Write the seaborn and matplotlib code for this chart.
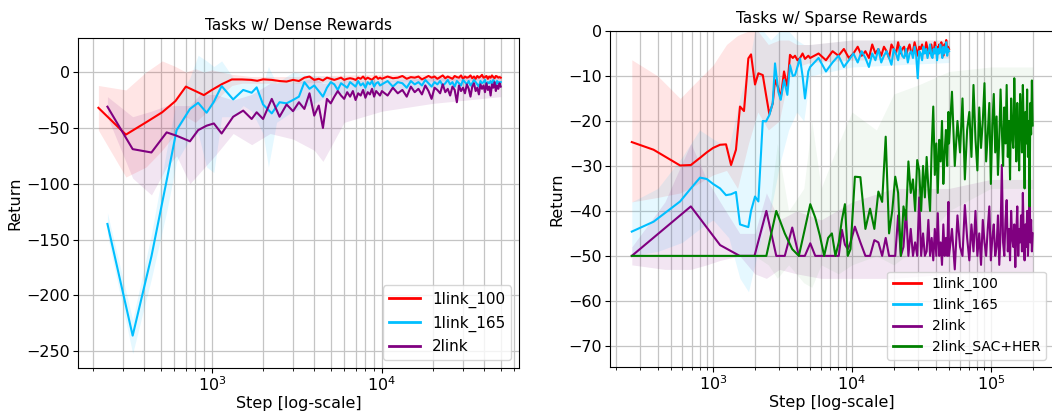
import numpy as np
import pandas as pd
import matplotlib
matplotlib.use("Agg")
import matplotlib.pyplot as plt
import seaborn as sns

# ---------------- data: dense-reward panel ----------------
x_red_early = [215, 312, 410, 510, 610, 703, 800, 897, 1000, 1145, 1310, 1500, 1700, 1850]
x_oth_early = [243, 342, 441, 542, 620, 743, 830, 931, 1027, 1141, 1334, 1528, 1714, 1834]
x_mid = list(range(2000, 10000, 250))
x_tail = list(range(10000, 50001, 800))

d_red_early = [-32, -56, -45, -36, -26, -13, -17, -20.6, -16, -10.8, -6.6, -6.6, -7, -7.8]
d_red_mid = [-6.5, -7, -8, -8.5, -7, -8, -5, -4, -7, -6,
             -7.5, -5, -6, -7, -6, -5, -7, -6, -5.5, -6,
             -7, -5, -6, -4, -6.5, -5, -6, -7, -5, -4,
             -6, -5]
d_red_tail = [-6, -4, -5.5, -5, -3.5, -6, -4.5, -5, -4, -6.5,
              -5, -3.5, -5, -4, -6, -4.5, -3, -5.5, -4, -5,
              -6, -3.5, -4.5, -5, -3, -6, -4, -5, -4.5, -3,
              -5.5, -4, -6, -3.5, -5, -4, -2.5, -5, -4.5, -3.5,
              -6, -4, -5, -3, -4.5, -5.5, -3.5, -4, -5, -4.5,
              -5]

d_blue_early = [-136, -236, -165, -97, -52, -33, -27.5, -36.4, -26.6, -12.5, -24.5, -16, -18.5, -13.7]
d_blue_mid = [-29, -37, -27, -28, -25, -22, -9, -15, -12, -17,
              -22, -14, -9, -11, -16, -10, -12, -14, -9, -11,
              -13, -8, -12, -10, -14, -9, -11, -8, -13, -10,
              -9, -12]
d_blue_tail = [-11, -8, -13, -9, -10, -14, -8, -11, -9, -12,
               -7, -10, -13, -9, -11, -8, -12, -10, -7, -11,
               -9, -13, -8, -10, -12, -7, -9, -11, -8, -12,
               -10, -7, -9, -11, -13, -8, -10, -9, -7, -12,
               -9, -10, -8, -11, -7, -9, -12, -8, -10, -9,
               -9]

d_purple_early = [-31, -69, -72, -54, -57, -62, -52, -48, -46, -55, -40, -34.5, -42, -36]
d_purple_mid = [-42, -24, -40, -29, -35, -27, -33, -19, -39, -30,
                -50, -24, -28, -22, -17, -21, -24, -18, -22, -17,
                -25, -19, -21, -16, -23, -18, -20, -15, -22, -17,
                -19, -21]
d_purple_tail = [-17, -21, -14, -19, -16, -22, -13, -18, -15, -20,
                 -12, -17, -24, -14, -16, -19, -11, -18, -15, -21,
                 -13, -16, -27, -12, -17, -14, -19, -11, -15, -22,
                 -13, -10, -17, -14, -20, -11, -15, -12, -18, -10,
                 -16, -13, -21, -11, -14, -9, -17, -12, -15, -10,
                 -13]

# bands (dense)
db_red_x = [215, 312, 410, 510, 610, 703, 800, 897, 1000, 1145, 1310, 1500, 1700, 2000, 3000, 5000, 10000, 20000, 50000]
db_red_lo = [-52, -94, -85, -70, -55, -40, -45, -38, -30, -20, -12, -10, -10, -10, -10, -9, -8, -8, -7]
db_red_hi = [-12, -16, 0, 10, 5, 0, 3, 0, 2, 0, -2, -3, -4, -4, -4, -3, -2, -2, -2]

db_blue_x = [243, 342, 441, 542, 620, 743, 830, 931, 1027, 1141, 1334, 1528, 1714, 2000, 2150, 2400, 3000, 4000, 5000, 7000, 10000, 20000, 50000]
db_blue_lo = [-146, -252, -185, -125, -80, -60, -55, -85, -90, -40, -40, -30, -35, -55, -85, -45, -35, -28, -20, -18, -16, -14, -13]
db_blue_hi = [-126, -222, -145, -70, -25, -5, 15, 10, 5, 10, -5, -5, -5, -10, 5, -10, 0, -3, -4, -5, -5, -5, -5]

db_purple_x = [243, 342, 441, 542, 620, 743, 850, 1041, 1334, 1714, 2200, 3000, 4000, 4500, 6000, 10000, 20000, 50000]
db_purple_lo = [-40, -95, -110, -85, -75, -100, -90, -75, -55, -65, -55, -60, -70, -80, -45, -35, -28, -22]
db_purple_hi = [-22, -40, -35, -30, -30, -30, -20, -20, -25, -20, -10, -10, -5, -10, -8, -8, -5, -3]

# ---------------- data: sparse-reward panel ----------------
xr_early = [260, 373, 579, 692, 806, 900, 1000, 1123, 1240, 1348,
            1462, 1563, 1670, 1795, 1877, 2005, 2120, 2280, 2407, 2542,
            2690, 2793, 2950, 3070, 3244, 3428, 3580, 3750, 3890, 4050,
            4230, 4410, 4590, 4850]
xr_tail = list(range(5000, 50001, 750))

s_red_early = [-24.7, -26.4, -29.9, -29.8, -28.2, -27, -26, -25.3, -25.2, -29.8,
               -26.4, -16.8, -17.8, -6.1, -5.2, -11.9, -9.4, -9.8, -14.2, -18.5,
               -16.1, -10.9, -12.7, -15, -9, -12.4, -5.3, -6, -5.5, -6.5,
               -6, -5, -6.2, -5.5]
s_red_tail = [-6, -5, -6.5, -4.5, -5.5, -4, -6, -5, -3.5, -5.5,
              -4.5, -6, -3, -5, -4, -5.5, -3.5, -4.5, -6, -3,
              -4, -5, -2.5, -5, -4, -3.5, -5.5, -4, -3, -5,
              -4.5, -2.5, -4, -5.5, -3.5, -4, -3, -5, -4.5, -2.5,
              -4, -5, -3.5, -3, -4.5, -5, -2.5, -4, -3.5, -5,
              -3, -4.5, -2.5, -4, -5.5, -3, -3.5, -2, -4.5, -3.5,
              -4]

s_blue_early = [-44.6, -42.4, -37.9, -35, -32.6, -32.9, -34, -35, -36.5, -36.3,
                -35.8, -43, -43.3, -43.6, -40, -36.8, -37.9, -20, -20.1, -18.7,
                -16, -7.2, -13.5, -15.3, -10.9, -14.2, -7.6, -10, -9.8, -8,
                -6.1, -10, -15, -9]
s_blue_tail = [-8, -6, -9, -7, -5.5, -8, -6.5, -5, -7, -4.5,
               -6, -8, -5, -6.5, -4, -7, -5.5, -4.5, -6, -7.5,
               -4, -5, -6.5, -3.5, -5.5, -6, -4, -7, -5, -4.5,
               -6, -3.5, -5.5, -10.5, -4.5, -5, -6.5, -3.5, -5, -4,
               -6, -4.5, -3, -5.5, -6, -4, -5, -3.5, -6.5, -4,
               -5, -3, -4.5, -6, -3.5, -5, -4, -2.5, -5.5, -4,
               -4.5]

g0 = [260, 692, 1124, 1556, 1988, 2420, 2852, 3284, 3716, 4148,
      4580, 5012, 5444, 5876, 6308, 6740, 7172, 7604, 8036, 8468,
      8900, 9332, 9764]
g1 = list(range(10500, 50000, 1000))
g2 = list(range(50000, 200001, 2500))

s_purple_0 = [-50, -39, -47.6, -50, -50, -40, -50, -50, -43.7, -50,
              -50, -47.2, -50, -50, -50, -50, -50, -50, -50, -44.2,
              -47.5, -48.5, -47]
s_purple_1 = [-43.5, -47, -50, -50, -46.5, -47, -50, -46, -50, -50,
              -50, -41, -50, -48, -39.8, -50, -44, -50, -47, -50,
              -37, -50, -45, -50, -49, -42, -50, -46, -51, -44,
              -50, -40.5, -50, -47, -52, -43, -50, -46, -50, -38]
s_purple_2 = [-50, -44, -53, -41, -48, -50, -38.7, -46, -51, -43,
              -49, -40, -50, -45, -52, -42, -47, -50, -44, -39,
              -51, -46, -43, -50, -48, -41, -52, -45, -29.8, -47,
              -50, -42, -37.6, -49, -44, -51, -40, -46, -48, -43,
              -52.5, -45, -39, -50, -44, -47, -41, -49, -36, -46,
              -51, -43, -48, -40, -50, -45, -33.9, -47, -42, -49,
              -45]

s_green_0 = [-50, -50, -50, -50, -50, -50, -40, -45, -48.5, -50,
             -44, -38.5, -41.5, -45.5, -50, -46, -45, -50, -47, -42,
             -38.5, -50, -48.5]
s_green_1 = [-32.4, -32.5, -44, -39.5, -44, -35.7, -38, -23.5, -45, -40,
             -32.4, -36, -50, -39, -42, -29, -36, -33, -40, -28.7,
             -31, -40, -30, -37, -28, -35, -40, -26, -16.8, -32,
             -25, -36, -24.2, -29, -20, -34, -27, -22, -30, -18]
s_green_2 = [-25, -13.5, -30, -20, -27, -15, -33, -22, -18, -28,
             -12, -24, -31, -17, -26, -20, -11.6, -29, -23, -16,
             -34, -21, -14, -27, -19, -32, -24, -13, -22, -30,
             -17, -25, -12, -28, -20, -33, -15, -23, -26, -10.5,
             -21, -29, -16, -24, -31, -14, -19, -27, -12, -22,
             -35, -18, -25, -13, -28, -20, -39, -16, -23, -11,
             -21]

# bands (sparse)
sb_red_x = [260, 400, 580, 720, 1000, 1250, 1500, 1800, 2100, 2500, 3000, 3500, 4000, 5000, 10000, 50000]
sb_red_lo = [-38, -37, -36, -34.6, -32, -31, -35, -25, -18, -22, -20, -10, -8, -7, -6.5, -6]
sb_red_hi = [-6.4, -10, -15, -12, -7.6, -3, -1, 0, 0, -3, -2, -2, -3, -3, -2, -2]

sb_blue_x = [260, 400, 600, 800, 1000, 1300, 1560, 1800, 2000, 2300, 2600, 3000, 3500, 4000, 4500, 5000, 10000, 50000]
sb_blue_lo = [-50, -49, -47, -44, -42, -46, -55, -58, -52, -44, -40, -30, -22, -18, -20, -10, -8, -7]
sb_blue_hi = [-38, -35, -28, -22, -24, -26, -15, -8, 0, 0, -2, 0, 0, -2, -3, -3, -2, -2]

sb_purple_x = [260, 450, 692, 900, 1124, 1556, 2000, 2420, 3000, 4000, 6000, 10000, 20000, 50000, 100000, 200000]
sb_purple_lo = [-52, -53, -53, -52, -51, -50, -54, -55, -53, -54, -55, -55, -55, -54, -54, -54]
sb_purple_hi = [-48, -38, -25, -33, -38, -45, -45, -36, -42, -40, -42, -38, -35, -35, -33, -33]

sb_green_x = [260, 1000, 2000, 2500, 2900, 3500, 4500, 5140, 6000, 8000, 10000, 15000, 20000, 30000, 50000, 100000, 200000]
sb_green_lo = [-50, -50, -50, -52, -55, -52, -56, -57, -52, -54, -52, -50, -52, -48, -40, -35, -35]
sb_green_hi = [-50, -50, -50, -42, -25, -40, -35, -20, -35, -25, -18, -22, -14, -12, -9, -8, -8]

names = ["1link_100", "1link_165", "2link", "2link_SAC+HER"]
colors = {"1link_100": "#ff0000", "1link_165": "#00bfff", "2link": "#800080", "2link_SAC+HER": "#008000"}
band_alpha = {"1link_100": 0.1, "1link_165": 0.1, "2link": 0.1, "2link_SAC+HER": 0.05}


def frame(name, xs, ys):
    return pd.DataFrame({"step": xs, "ret": ys, "run": name})


df_dense = pd.concat([
    frame("1link_100", x_red_early + x_mid + x_tail, d_red_early + d_red_mid + d_red_tail),
    frame("1link_165", x_oth_early + x_mid + x_tail, d_blue_early + d_blue_mid + d_blue_tail),
    frame("2link", x_oth_early + x_mid + x_tail, d_purple_early + d_purple_mid + d_purple_tail),
], ignore_index=True)

df_sparse = pd.concat([
    frame("1link_100", xr_early + xr_tail, s_red_early + s_red_tail),
    frame("1link_165", xr_early + xr_tail, s_blue_early + s_blue_tail),
    frame("2link", g0 + g1 + g2, s_purple_0 + s_purple_1 + s_purple_2),
    frame("2link_SAC+HER", g0 + g1 + g2, s_green_0 + s_green_1 + s_green_2),
], ignore_index=True)

plt.rcParams.update({
    "xtick.labelsize": 11.5, "ytick.labelsize": 11.5,
    "axes.labelsize": 11.5, "axes.titlesize": 11,
    "xtick.major.pad": 2.0, "ytick.major.pad": 2.0,
})

fig = plt.figure(figsize=(10.52, 4.11), dpi=100)
axL = fig.add_axes([0.0741, 0.1046, 0.4192, 0.8029])
axR = fig.add_axes([0.5798, 0.1071, 0.4211, 0.8175])

# bands
for bx, lo, hi, nm in [(db_red_x, db_red_lo, db_red_hi, "1link_100"),
                       (db_blue_x, db_blue_lo, db_blue_hi, "1link_165"),
                       (db_purple_x, db_purple_lo, db_purple_hi, "2link")]:
    axL.fill_between(bx, lo, hi, color=colors[nm], alpha=band_alpha[nm], lw=0, zorder=1)
for bx, lo, hi, nm in [(sb_red_x, sb_red_lo, sb_red_hi, "1link_100"),
                       (sb_blue_x, sb_blue_lo, sb_blue_hi, "1link_165"),
                       (sb_purple_x, sb_purple_lo, sb_purple_hi, "2link"),
                       (sb_green_x, sb_green_lo, sb_green_hi, "2link_SAC+HER")]:
    axR.fill_between(bx, lo, hi, color=colors[nm], alpha=band_alpha[nm], lw=0, zorder=1)

sns.lineplot(data=df_dense, x="step", y="ret", hue="run", hue_order=names[:3],
             palette=colors, estimator=None, errorbar=None, linewidth=1.5, ax=axL, zorder=3)
sns.lineplot(data=df_sparse, x="step", y="ret", hue="run", hue_order=names,
             palette=colors, estimator=None, errorbar=None, linewidth=1.5, ax=axR, zorder=3)

for ax, lfs, lsp in ((axL, 11, 0.5), (axR, 10, 0.5)):
    ax.set_xscale("log")
    ax.grid(True, which="both", axis="x", color="#c4c4c4", linewidth=0.9)
    ax.grid(True, which="major", axis="y", color="#c4c4c4", linewidth=0.9)
    ax.set_axisbelow(True)
    ax.set_xlabel("Step [log-scale]", labelpad=1.5)
    ax.set_ylabel("Return", labelpad=3)
    h, l = ax.get_legend_handles_labels()
    for hh in h:
        hh.set_linewidth(2)
    ax.legend(h, l, loc="lower right", framealpha=0.8, fontsize=lfs, labelspacing=lsp)

axL.set_xlim(163, 64000)
axL.set_ylim(-265, 30.5)
axL.set_yticks([-250, -200, -150, -100, -50, 0])
axL.set_title("Tasks w/ Dense Rewards")

axR.set_xlim(181, 2.8e5)
axR.set_ylim(-74.7, 0)
axR.set_yticks([-70, -60, -50, -40, -30, -20, -10, 0])
axR.set_title("Tasks w/ Sparse Rewards")

fig.savefig("out.png", dpi=100)
